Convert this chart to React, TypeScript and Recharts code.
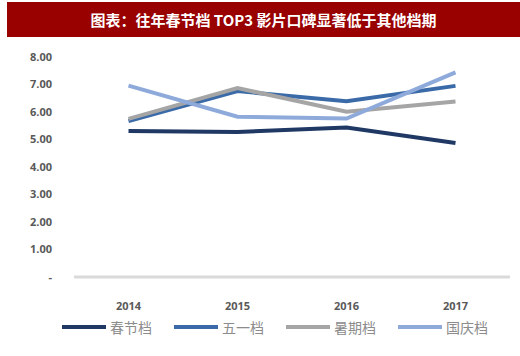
import { LineChart, Line, XAxis, YAxis } from 'recharts';

const years = ['2014', '2015', '2016', '2017'];
const springFestival = [5.31, 5.27, 5.44, 4.87];
const mayDay = [5.67, 6.76, 6.39, 6.95];
const summer = [5.75, 6.87, 6.01, 6.38];
const nationalDay = [6.96, 5.83, 5.76, 7.44];
const yTicks = [0, 1, 2, 3, 4, 5, 6, 7, 8];

const seriesList = [
  { key: 'spring', name: '春节档', color: '#1f3864', values: springFestival },
  { key: 'may', name: '五一档', color: '#3a6aa8', values: mayDay },
  { key: 'summer', name: '暑期档', color: '#a5a5a5', values: summer },
  { key: 'national', name: '国庆档', color: '#8eaadb', values: nationalDay },
];

const data = years.map((year, i) => {
  const row: Record<string, string | number> = { year };
  seriesList.forEach((s) => {
    row[s.key] = s.values[i];
  });
  return row;
});

const tickFont = {
  fontFamily: '"Open Sans", "Liberation Sans", sans-serif',
  fontSize: 11,
  fontWeight: 700,
  fill: '#595959',
};

function LegendRow() {
  return (
    <div
      style={{
        position: 'absolute',
        left: 62,
        top: 317,
        display: 'flex',
        height: 20,
        alignItems: 'center',
      }}
    >
      {seriesList.map((s) => (
        <div key={s.key} style={{ display: 'flex', alignItems: 'center', marginRight: 22 }}>
          <span style={{ display: 'inline-block', width: 44, height: 4, background: s.color }} />
          <span
            style={{
              marginLeft: 4,
              fontFamily: '"Noto Sans CJK SC", sans-serif',
              fontSize: 14,
              color: '#8c8c8c',
              width: 42,
            }}
          >
            {s.name}
          </span>
        </div>
      ))}
    </div>
  );
}

export default function App() {
  return (
    <div style={{ position: 'absolute', left: 0, top: 0, width: 520, height: 356, background: '#fff' }}>
      <div
        style={{
          position: 'absolute',
          left: 7,
          top: 2,
          width: 513,
          height: 35,
          background: '#990000',
          color: '#fff',
          fontFamily: '"Noto Sans CJK SC", sans-serif',
          fontWeight: 700,
          fontSize: 15,
          lineHeight: '35px',
          textAlign: 'center',
        }}
      >
        图表：往年春节档 TOP3 影片口碑显著低于其他档期
      </div>
      <div style={{ position: 'absolute', left: 0, top: 0 }}>
        <LineChart
          width={520}
          height={356}
          data={data}
          margin={{ top: 57, right: 10, bottom: 49, left: 0 }}
        >
          <XAxis
            dataKey="year"
            scale="band"
            height={30}
            axisLine={{ stroke: '#d9d9d9', strokeWidth: 3 }}
            tickLine={false}
            tickSize={0}
            tickMargin={25}
            tick={tickFont}
          />
          <YAxis
            width={74}
            domain={[0, 8]}
            ticks={yTicks}
            axisLine={false}
            tickLine={false}
            tickSize={0}
            tickMargin={22}
            tick={tickFont}
            tickFormatter={(v: number) => (v === 0 ? '-' : v.toFixed(2))}
          />
          {seriesList.map((s) => (
            <Line
              key={s.key}
              dataKey={s.key}
              name={s.name}
              stroke={s.color}
              strokeWidth={4}
              dot={false}
              activeDot={false}
              isAnimationActive={false}
            />
          ))}
        </LineChart>
      </div>
      <LegendRow />
    </div>
  );
}
